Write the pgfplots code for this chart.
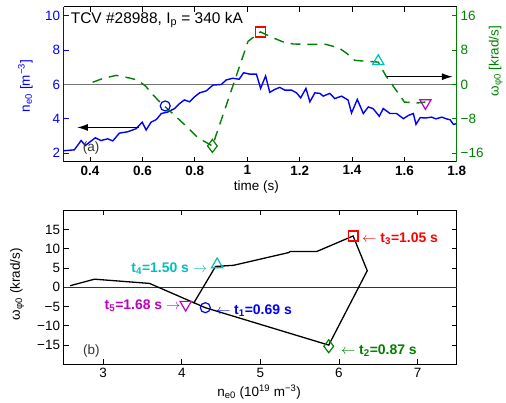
\documentclass[border=0pt]{standalone}
\usepackage{fontspec}
\setmainfont{Liberation Sans}
\usepackage{pgfplots}
\pgfplotsset{compat=1.18}
\usetikzlibrary{arrows.meta}
\definecolor{mblue}{rgb}{0,0,1}
\definecolor{mgreen}{rgb}{0,0.5,0}
\definecolor{mred}{rgb}{1,0,0}
\definecolor{mcyan}{rgb}{0,0.75,0.75}
\definecolor{mmag}{rgb}{0.75,0,0.75}
\newcommand{\fs}{\fontsize{13.5bp}{15bp}\selectfont}
\newcommand{\fa}{\fontsize{14bp}{16bp}\selectfont\bfseries}
\pgfplotsset{
  every tick label/.append style={font=\fs},
  label style={font=\fs},
  /pgf/number format/assume math mode=true,
  tick align=inside,
  major tick length=5bp,
  scale only axis,
  width=394bp,
  every axis/.append style={line width=1bp},
  every tick/.style={line width=0.8bp},
}
\begin{document}
\begin{tikzpicture}[x=1bp,y=1bp]
\path (0,0) rectangle (506,403);
% ---------- top: left axis (n_e0)
\begin{axis}[
  at={(64bp,240.7bp)}, anchor=south west, height=155.3bp,
  xmin=0.3, xmax=1.8, ymin=1.5, ymax=10.5,
  axis y line*=left,
  xtick={0.4,0.6,0.8,1,1.2,1.4,1.6,1.8},
  xticklabels={0.4,0.6,0.8,1,1.2,1.4,1.6,1.8},
  xticklabel style={font=\fs\bfseries},
  ytick={2,4,6,8,10},
  y axis line style={mblue},
  ytick style={mblue},
  yticklabel style={text=mblue},
  xlabel={time (s)},
  xlabel style={at={(axis description cs:0.49,-0.16)}, anchor=center},
  ylabel={\textcolor{mblue}{n\textsubscript{e0} [m\textsuperscript{−3}]}},
  ylabel style={at={(axis description cs:-0.098,0.49)}, anchor=center},
]
\addplot[black!55, line width=1.4bp] coordinates {(0.3,6)(1.8,6)};
\addplot[mblue, line width=1.4bp] coordinates {
(0.3,2.15)(0.34,2.2)(0.366,2.74)(0.382,2.45)(0.42,2.9)(0.442,2.74)(0.467,2.84)(0.487,2.72)
(0.512,3.17)(0.544,3.25)(0.576,3.43)(0.599,3.81)(0.614,3.35)(0.633,3.81)(0.653,3.96)
(0.672,4.31)(0.697,4.4)(0.723,4.6)(0.742,4.89)(0.76,5.1)(0.78,4.99)(0.799,5.28)(0.818,5.51)
(0.844,5.63)(0.869,5.96)(0.901,6.0)(0.92,6.26)(0.945,6.36)(0.969,6.3)(0.986,6.68)
(1.009,6.6)(1.035,6.6)(1.051,5.77)(1.07,6.49)(1.086,5.54)(1.105,5.71)(1.124,5.83)
(1.143,5.67)(1.169,5.67)(1.188,5.51)(1.204,5.22)(1.224,5.77)(1.239,4.99)(1.258,5.51)
(1.277,5.48)(1.29,5.32)(1.315,5.48)(1.334,5.18)(1.36,5.32)(1.385,5.09)(1.398,4.34)
(1.42,5.13)(1.443,4.31)(1.462,4.69)(1.48,4.6)(1.504,4.15)(1.519,4.6)(1.545,4.31)
(1.57,4.31)(1.596,4.01)(1.615,4.2)(1.634,4.31)(1.644,3.68)(1.66,4.07)(1.68,4.05)
(1.704,4.1)(1.72,4.0)(1.743,4.1)(1.76,4.0)(1.774,3.95)(1.787,3.68)(1.8,3.72)};
\addplot[black, line width=1.4bp, -{Latex[length=11bp,width=7bp]}] coordinates {(0.585,3.5)(0.35,3.5)};
\node[font=\fs, text=black!80] at (axis cs:0.404,2.3) {(a)};
\node[font=\fontsize{15.5bp}{17bp}\selectfont, anchor=west, inner sep=0] at (axis cs:0.325,9.72) {TCV \#28988, I\textsubscript{p} = 340 kA};
\end{axis}
% ---------- top: right axis (omega)
\begin{axis}[
  at={(64bp,240.7bp)}, anchor=south west, height=155.3bp,
  xmin=0.3, xmax=1.8, ymin=-18, ymax=18,
  axis y line*=right, axis x line=none,
  ytick={-16,-8,0,8,16},
  yticklabels={−16,−8,0,8,16},
  y axis line style={mgreen},
  ytick style={mgreen},
  yticklabel style={text=mgreen},
  ylabel={\textcolor{mgreen}{ω\textsubscript{φ0} [krad/s]}},
  ylabel style={at={(axis description cs:1.099,0.65)}, anchor=center},
]
\addplot[mgreen, line width=1.4bp, dash pattern=on 10bp off 7bp] coordinates {
(0.41,0.5)(0.45,1.4)(0.5,2.1)(0.55,1.5)(0.582,1.0)(0.612,-0.4)(0.64,-2.4)(0.665,-4.0)
(0.716,-6.8)(0.767,-9.7)(0.812,-12.4)(0.867,-14.3)(1.003,10.0)(1.05,12.2)(1.10,10.8)
(1.14,9.8)(1.175,9.4)(1.24,9.3)(1.30,9.3)(1.35,8.5)(1.38,7.2)(1.41,5.6)(1.45,5.4)
(1.5,5.2)(1.53,1.9)(1.57,-1.5)(1.60,-4.1)(1.65,-4.3)(1.68,-4.1)};
\addplot[only marks, mblue, line width=1.2bp, mark=o, mark size=5bp] coordinates {(0.687,-5.0)};
\addplot[only marks, mgreen, line width=1.2bp, mark=diamond, mark size=6.5bp] coordinates {(0.867,-14.3)};
\addplot[only marks, mred, line width=1.2bp, mark=square, mark size=5bp] coordinates {(1.05,12.2)};
\addplot[only marks, mcyan, line width=1.2bp, mark=triangle, mark size=6.5bp] coordinates {(1.5,5.4)};
\addplot[only marks, mmag, line width=1.2bp, mark=triangle, mark size=6.5bp, mark options={rotate=180}] coordinates {(1.68,-4.3)};
\addplot[black, line width=1.4bp, -{Latex[length=11bp,width=7bp]}] coordinates {(1.532,1.8)(1.785,1.8)};
\end{axis}
% ---------- bottom
\begin{axis}[
  at={(64bp,37.7bp)}, anchor=south west, height=154.6bp,
  xmin=2.5, xmax=7.5, ymin=-20, ymax=20,
  xtick={3,4,5,6,7},
  ytick={-15,-10,-5,0,5,10,15},
  yticklabels={−15,−10,−5,0,5,10,15},
  xlabel={n\textsubscript{e0} (10\textsuperscript{19} m\textsuperscript{−3})},
  xlabel style={at={(axis description cs:0.497,-0.18)}, anchor=center},
  ylabel={ω\textsubscript{φ0} (krad/s)},
  ylabel style={at={(axis description cs:-0.119,0.52)}, anchor=center},
]
\addplot[black!80, line width=0.9bp] coordinates {(2.5,0)(7.5,0)};
\addplot[black, line width=1.3bp] coordinates {
(2.58,0.4)(2.89,2.1)(3.59,1.0)(4.3,-5.3)(5.87,-15)(6.36,4.3)(6.18,13.3)(5.72,9.3)
(5.38,9.3)(5.36,9.0)(4.66,5.7)(4.43,5.4)(4.15,-4.2)};
\addplot[only marks, mblue, line width=1.2bp, mark=o, mark size=5bp] coordinates {(4.3,-5.3)};
\addplot[only marks, mgreen, line width=1.2bp, mark=diamond, mark size=6.5bp] coordinates {(5.87,-15.3)};
\addplot[only marks, mred, line width=1.2bp, mark=square, mark size=5bp] coordinates {(6.18,13.3)};
\addplot[only marks, mcyan, line width=1.2bp, mark=triangle, mark size=6.5bp] coordinates {(4.45,5.9)};
\addplot[only marks, mmag, line width=1.2bp, mark=triangle, mark size=6.5bp, mark options={rotate=180}] coordinates {(4.05,-4.5)};
\node[font=\fa, text=mblue, anchor=west, inner sep=0] at (axis cs:4.43,-6.0) {$\leftarrow$ t\textsubscript{1}=0.69 s};
\node[font=\fa, text=mgreen, anchor=west, inner sep=0] at (axis cs:6.02,-16.5) {$\leftarrow$ t\textsubscript{2}=0.87 s};
\node[font=\fa, text=mred, anchor=west, inner sep=0] at (axis cs:6.29,12.5) {$\leftarrow$ t\textsubscript{3}=1.05 s};
\node[font=\fa, text=mcyan, anchor=east, inner sep=0] at (axis cs:4.33,4.8) {t\textsubscript{4}=1.50 s $\rightarrow$};
\node[font=\fa, text=mmag, anchor=east, inner sep=0] at (axis cs:3.99,-4.7) {t\textsubscript{5}=1.68 s $\rightarrow$};
\node[font=\fs, text=black!80] at (axis cs:2.85,-16.5) {(b)};
\end{axis}
\end{tikzpicture}
\end{document}
